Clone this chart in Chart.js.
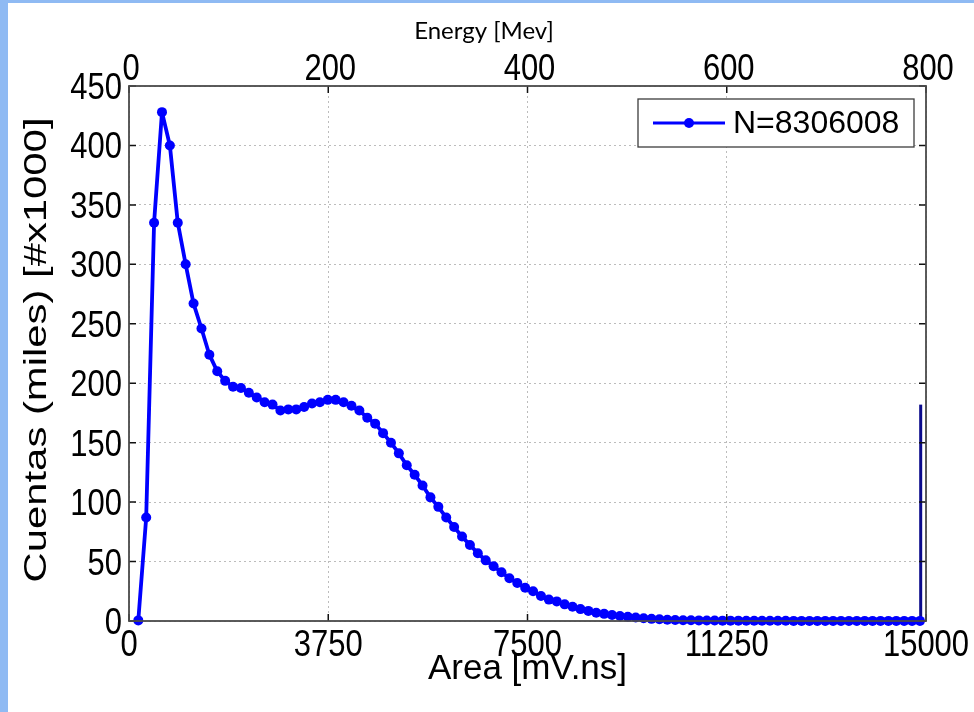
<!DOCTYPE html>
<html>
<head>
<meta charset="utf-8">
<title>Cuentas vs Area</title>
<script src="https://cdn.jsdelivr.net/npm/chart.js@4.4.0/dist/chart.umd.min.js"></script>
<style>
body{margin:0;background:#fff;}
#wrap{position:relative;width:974px;height:712px;}
#leftBar{position:absolute;left:0;top:0;width:8px;height:712px;background:#8fbaf3;}
#topBar{position:absolute;left:0;top:0;width:974px;height:3px;background:#8fbaf3;}
</style>
</head>
<body>
<div id="wrap">
<canvas id="chart"></canvas>
<div id="leftBar"></div>
<div id="topBar"></div>
</div>
<script>
//first bin centre and bin width on the area axis [mV.ns]
var binStart=175;
var binStep=148.6;
//counts per bin, in thousands
var counts=[0.5, 87, 335, 428, 400, 335, 300, 267, 246, 224,
    210, 202, 197, 196, 192, 188, 184, 182, 177, 178,
    178, 180, 183, 184, 186, 186, 184, 181, 177, 171,
    166, 158, 150, 141, 131, 123, 114, 104, 96, 87,
    79, 71, 64, 57, 51, 46, 41, 36, 32, 28,
    25, 21, 18, 16.5, 14, 12, 10, 8.5, 7, 6,
    5, 4.2, 3.5, 2.9, 2.3, 1.8, 1.4, 1.1, 0.9, 0.7,
    0.6, 0.5, 0.4, 0.4, 0.3, 0.3, 0.3, 0.2, 0.2, 0.2,
    0.2, 0.2, 0.2, 0.1, 0.1, 0.1, 0.1, 0.1, 0.1, 0.1,
    0.1, 0.1, 0.1, 0.1, 0.1, 0.1, 0.1, 0.1, 0.1, 0.1];
//overflow bin, drawn as a dark spike at the end
var overflowX=[14900, 14900];
var overflowY=[0, 182];
//tick labels
var areaTicks=[0, 3750, 7500, 11250, 15000];
var energyTicks=[0, 200, 400, 600, 800];
var countTicks=[0, 50, 100, 150, 200, 250, 300, 350, 400, 450];
//texts
var legendText="N=8306008";
var xTitle="Area [mV.ns]";
var yTitle="Cuentas (miles) [#x1000]";
var topTitle="Energy [Mev]";

var tickFont='36px "Liberation Sans", Arial, sans-serif';
//the tick digits of the original are condensed
var tickSquash=0.86;

//build the point list for the main series
function buildPoints(){
    var pts=[];
    for(var i=0;i<counts.length;i++){
        pts.push({x:binStart+binStep*i, y:counts[i]});
    }
    return pts;
}

function buildOverflow(){
    var pts=[];
    for(var i=0;i<overflowX.length;i++){
        pts.push({x:overflowX[i], y:overflowY[i]});
    }
    return pts;
}

//force the tick values from our arrays
function setTicks(list){
    return function(scale){
        scale.ticks=list.map(function(v){return {value:v};});
    };
}

function fixWidth(w){
    return function(scale){ scale.width=w; };
}
function fixHeight(h){
    return function(scale){ scale.height=h; };
}

//draw one condensed tick label
function squashedText(ctx,text,x,y,align){
    ctx.save();
    ctx.translate(x,y);
    ctx.scale(tickSquash,1);
    ctx.textAlign=align;
    ctx.fillText(text,0,0);
    ctx.restore();
}

//white background before anything is drawn
var background={
    id:'background',
    beforeDraw:function(chart){
        var ctx=chart.ctx;
        ctx.save();
        ctx.fillStyle='#ffffff';
        ctx.fillRect(0,0,chart.width,chart.height);
        ctx.restore();
    }
};

//matlab style frame: box, inward ticks, tick labels, legend and titles
var frame={
    id:'frame',
    afterDraw:function(chart){
        var ctx=chart.ctx;
        var a=chart.chartArea;
        var sx=chart.scales.x, sx2=chart.scales.x2, sy=chart.scales.y;
        var tl=7;
        ctx.save();

        //inward tick marks
        ctx.strokeStyle='#111';
        ctx.lineWidth=1.5;
        ctx.beginPath();
        areaTicks.forEach(function(v){
            var p=sx.getPixelForValue(v);
            ctx.moveTo(p,a.bottom); ctx.lineTo(p,a.bottom-tl);
        });
        energyTicks.forEach(function(v){
            var p=sx2.getPixelForValue(v);
            ctx.moveTo(p,a.top); ctx.lineTo(p,a.top+tl);
        });
        countTicks.forEach(function(v){
            var p=sy.getPixelForValue(v);
            ctx.moveTo(a.left,p); ctx.lineTo(a.left+tl,p);
            ctx.moveTo(a.right,p); ctx.lineTo(a.right-tl,p);
        });
        ctx.stroke();

        //axes box
        ctx.strokeStyle='#4a4a4a';
        ctx.lineWidth=1.8;
        ctx.strokeRect(a.left,a.top,a.right-a.left,a.bottom-a.top);

        //tick labels
        ctx.fillStyle='#000';
        ctx.font=tickFont;
        ctx.textBaseline='alphabetic';
        areaTicks.forEach(function(v){
            squashedText(ctx,String(v),sx.getPixelForValue(v),656,'center');
        });
        energyTicks.forEach(function(v){
            squashedText(ctx,String(v),sx2.getPixelForValue(v)+2,80,'center');
        });
        countTicks.forEach(function(v){
            squashedText(ctx,String(v),122,sy.getPixelForValue(v)+13,'right');
        });

        //legend
        var lx=638, ly=99, lw=276, lh=48;
        ctx.fillStyle='#ffffff';
        ctx.fillRect(lx,ly,lw,lh);
        ctx.strokeStyle='#3c3c3c';
        ctx.lineWidth=1.3;
        ctx.strokeRect(lx,ly,lw,lh);
        var my=ly+lh/2;
        ctx.strokeStyle='#0000ff';
        ctx.lineWidth=3;
        ctx.beginPath();
        ctx.moveTo(653,my); ctx.lineTo(725,my);
        ctx.stroke();
        ctx.fillStyle='#0000ff';
        ctx.beginPath();
        ctx.arc(689,my,5,0,Math.PI*2);
        ctx.fill();
        ctx.fillStyle='#000';
        ctx.font='32px "Liberation Sans", Arial, sans-serif';
        ctx.textAlign='left';
        ctx.textBaseline='middle';
        ctx.fillText(legendText,733,my+1);

        //bottom axis title
        ctx.font='35px "Liberation Sans", Arial, sans-serif';
        ctx.textAlign='center';
        ctx.textBaseline='alphabetic';
        ctx.fillText(xTitle,(a.left+a.right)/2,679);

        //left axis title, stretched along its length like the original
        ctx.save();
        ctx.translate(37,350);
        ctx.rotate(-Math.PI/2);
        ctx.font='32px "Liberation Sans", Arial, sans-serif';
        var w=ctx.measureText(yTitle).width;
        ctx.scale(465/w,1);
        ctx.textBaseline='middle';
        ctx.fillText(yTitle,0,0);
        ctx.restore();

        //top title
        ctx.font='24px Lato, "Open Sans", sans-serif';
        ctx.textBaseline='middle';
        ctx.fillText(topTitle,484,31);
        ctx.restore();
    }
};

function createChart(){
    var chart=new Chart(document.getElementById("chart"),{
        type:'line',
        data:{
            datasets:[{
                label:legendText,
                data:buildPoints(),
                borderColor:'#0000ff',
                backgroundColor:'#0000ff',
                borderWidth:3.8,
                borderJoinStyle:'round',
                pointRadius:5,
                pointHoverRadius:5,
                pointBorderWidth:0,
                pointBackgroundColor:'#0000ff',
                tension:0,
                clip:false
            },{
                label:'overflow',
                data:buildOverflow(),
                borderColor:'#0a0a8c',
                borderWidth:3,
                pointRadius:0,
                tension:0,
                clip:false
            }]
        },
        options:{
            responsive:true,
            maintainAspectRatio:false,
            animation:false,
            devicePixelRatio:1,
            layout:{padding:0},
            plugins:{
                legend:{display:false},
                tooltip:{enabled:false}
            },
            scales:{
                x:{
                    type:'linear',
                    position:'bottom',
                    min:0, max:15000,
                    afterBuildTicks:setTicks(areaTicks),
                    afterFit:fixHeight(91),
                    ticks:{display:false},
                    grid:{color:'#bcbcbc', lineWidth:1, drawTicks:false},
                    border:{display:false, dash:[2,3]}
                },
                x2:{
                    type:'linear',
                    position:'top',
                    min:0, max:800,
                    afterBuildTicks:setTicks(energyTicks),
                    afterFit:fixHeight(86),
                    ticks:{display:false},
                    grid:{display:false},
                    border:{display:false}
                },
                y:{
                    type:'linear',
                    position:'left',
                    min:0, max:450,
                    afterBuildTicks:setTicks(countTicks),
                    afterFit:fixWidth(129),
                    ticks:{display:false},
                    grid:{color:'#bcbcbc', lineWidth:1, drawTicks:false},
                    border:{display:false, dash:[2,3]}
                },
                y2:{
                    type:'linear',
                    position:'right',
                    min:0, max:450,
                    afterFit:fixWidth(48),
                    ticks:{display:false},
                    grid:{display:false},
                    border:{display:false}
                }
            }
        },
        plugins:[background,frame]
    });
    return chart;
}

createChart();
</script>
</body>
</html>
